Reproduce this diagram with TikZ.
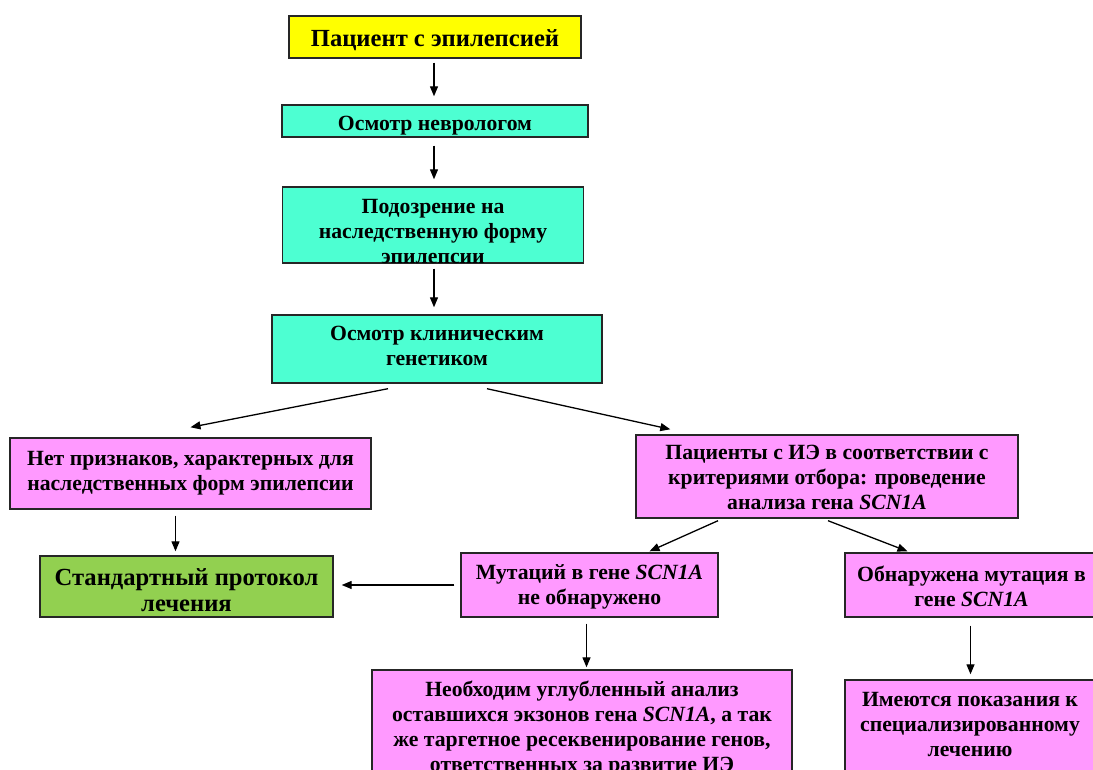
\documentclass[tikz,border=0pt]{standalone}
\usepackage{fontspec}
\setmainfont{Liberation Serif}
\usetikzlibrary{arrows.meta,calc}
\definecolor{cyanbox}{HTML}{4DFFD2}
\definecolor{pinkbox}{HTML}{FF99FF}
\definecolor{greenbox}{HTML}{92D050}
\definecolor{yellowbox}{HTML}{FFFF00}
\begin{document}
\begin{tikzpicture}[x=1pt,y=-1pt,
  box/.style={draw=black!85, line width=1.4pt, inner sep=0pt},
  txt/.style={inner sep=0pt, align=center, font=\bfseries\fontsize{21.7}{25}\selectfont},
  bigtxt/.style={txt, font=\bfseries\fontsize{24.6}{26.5}\selectfont},
  arr/.style={line width=1.3pt, -{Triangle[length=10pt,width=8pt]}}]
\useasboundingbox (0,0) rectangle (1093,770);
\fill[white] (0,0) rectangle (1093,770);
\clip (0,0) rectangle (1093,770);

% boxes
\node[box, fill=yellowbox, minimum width=292, minimum height=42] (start) at (435,37) {};
\node[box, fill=cyanbox, minimum width=306, minimum height=32] (nevr) at (435,121) {};
\node[box, fill=cyanbox, minimum width=301, minimum height=76] (podozr) at (433,225) {};
\node[box, fill=cyanbox, minimum width=330, minimum height=68] (genet) at (437,349) {};
\node[box, fill=pinkbox, minimum width=361, minimum height=71] (net) at (190.5,473.5) {};
\node[box, fill=pinkbox, minimum width=382, minimum height=83] (pats) at (827,476.5) {};
\node[box, fill=greenbox, minimum width=293, minimum height=61] (std) at (186.5,586.5) {};
\node[box, fill=pinkbox, minimum width=257, minimum height=64] (mutnet) at (589.5,585) {};
\node[box, fill=pinkbox, minimum width=253, minimum height=64] (obn) at (971.5,585) {};
\node[box, fill=pinkbox, minimum width=420, minimum height=130] (neob) at (582,735) {};
\node[box, fill=pinkbox, minimum width=253, minimum height=120] (imeyut) at (971.5,740) {};

% texts
\node[bigtxt] (startT) at (435,40) {Пациент с эпилепсией};
\node[txt] (nevrT) at (435,126) {Осмотр неврологом};
\node[txt] (podozrT) at (433,232) {Подозрение на\\наследственную форму\\эпилепсии};
\node[txt] (genetT) at (437,346) {Осмотр клиническим\\генетиком};
\node[txt] (netT) at (190.5,473) {Нет признаков, характерных для\\наследственных форм эпилепсии};
\node[txt] (patsT) at (827,477.5) {Пациенты с ИЭ в соответствии с\\критериями отбора: проведение\\анализа гена \textit{SCN1A}};
\node[bigtxt] (stdT) at (186.5,590) {Стандартный протокол\\лечения};
\node[txt] (mutnetT) at (589.5,586.5) {Мутаций в гене \textit{SCN1A}\\не обнаружено};
\node[txt] (obnT) at (971.5,586) {Обнаружена мутация в\\гене \textit{SCN1A}};
\node[txt] (neobT) at (582,728.5) {Необходим углубленный анализ\\оставшихся экзонов гена \textit{SCN1A}, а так\\же таргетное ресеквенирование генов,\\ответственных за развитие ИЭ};
\node[txt] (imeyutT) at (970,724) {Имеются показания к\\специализированному\\лечению};

% connectors
\coordinate (c1) at ($(start.south)+(-1,0)$);
\coordinate (c2) at ($(nevr.south)+(-1,0)$);
\coordinate (c3) at ($(podozr.south)+(1,0)$);
\coordinate (c4) at ($(net.south)+(-15,0)$);
\coordinate (c5) at ($(mutnet.south)+(-3,0)$);
\coordinate (c6) at ($(obn.south)+(-1,0)$);

\draw[arr, shorten <=4pt, shorten >=8pt] (c1) -- (c1 |- nevr.north);
\draw[arr, shorten <=8pt, shorten >=7pt] (c2) -- (c2 |- podozr.north);
\draw[arr, shorten <=5pt, shorten >=7pt] (c3) -- (c3 |- genet.north);
\draw[arr] ($(genet.south)+(-49,5)$) -- ($(net.north)+(0,-10)$);
\draw[arr] ($(genet.south)+(50,5)$) -- ($(pats.north west)+(35,-5)$);
\draw[arr, shorten <=6pt, shorten >=4pt] (c4) -- (c4 |- std.north);
\draw[arr, shorten <=6pt, shorten >=8pt] (mutnet.west) -- (mutnet.west -| std.east);
\draw[arr] ($(pats.south)+(-109,2)$) -- ($(mutnet.north)+(60,-1)$);
\draw[arr] ($(pats.south)+(1,2)$) -- ($(obn.north)+(-64,-1)$);
\draw[arr, shorten <=6pt, shorten >=2pt] (c5) -- (c5 |- neob.north);
\draw[arr, shorten <=8pt, shorten >=5pt] (c6) -- (c6 |- imeyut.north);
\end{tikzpicture}
\end{document}
